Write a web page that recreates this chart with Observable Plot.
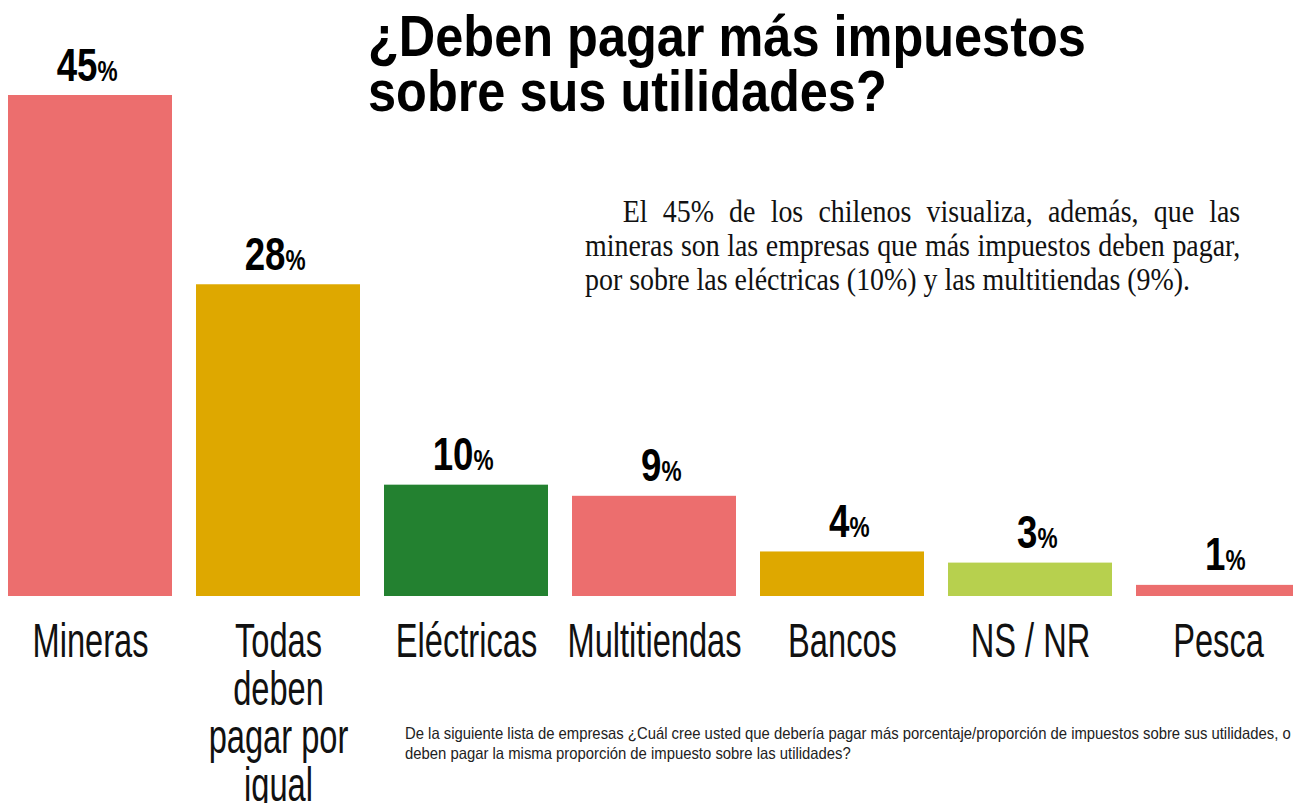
<!DOCTYPE html>
<html>
<head>
<meta charset="utf-8">
<script src="https://cdn.jsdelivr.net/npm/d3@7"></script>
<script src="https://cdn.jsdelivr.net/npm/@observablehq/plot@0.6"></script>
<style>
  html, body { margin: 0; padding: 0; background: #fff; }
  #wrap { position: relative; width: 1293px; height: 803px; overflow: hidden; }
  #title { position: absolute; left: 368px; top: 8px; font-family: "Liberation Sans", Arial, sans-serif; font-weight: bold; font-size: 58px; line-height: 55px; color: #000; white-space: nowrap; transform: scaleX(0.87); transform-origin: 0 0; }
  #note { position: absolute; left: 585px; top: 195px; width: 728px; font-family: "Liberation Serif", "DejaVu Serif", serif; font-size: 31px; line-height: 34px; color: #111; transform: scaleX(0.9); transform-origin: 0 0; }
  #note div { text-align: justify; text-align-last: justify; white-space: nowrap; }
  #note div.last { text-align-last: left; }
  #note div.first { text-indent: 42px; }
  #foot { position: absolute; left: 405px; top: 723px; font-family: "Liberation Sans", Arial, sans-serif; font-size: 16.5px; line-height: 20px; color: #222; white-space: nowrap; transform: scaleX(0.9); transform-origin: 0 0; }
  svg { position: absolute; left: 0; top: 0; }
</style>
</head>
<body>
<div id="wrap">
  <div id="chart"></div>
  <div id="title">¿Deben pagar más impuestos<br>sobre sus utilidades?</div>
  <div id="note">
    <div class="first">El 45% de los chilenos visualiza, además, que las</div>
    <div>mineras son las empresas que más impuestos deben pagar,</div>
    <div class="last">por sobre las eléctricas (10%) y las multitiendas (9%).</div>
  </div>
  <div id="foot">De la siguiente lista de empresas ¿Cuál cree usted que debería pagar más porcentaje/proporción de impuestos sobre sus utilidades, o<br>deben pagar la misma proporción de impuesto sobre las utilidades?</div>
</div>
<script>
const categories = ["Mineras", "Todas deben pagar por igual", "Eléctricas", "Multitiendas", "Bancos", "NS / NR", "Pesca"];
const labels = ["Mineras", "Todas\ndeben\npagar por\nigual", "Eléctricas", "Multitiendas", "Bancos", "NS / NR", "Pesca"];
const values = [45, 28, 10, 9, 4, 3, 1];
const colors = ["#EC6E6E", "#DEA800", "#238130", "#EC6E6E", "#DEA800", "#B7D04E", "#EC6E6E"];

const data = categories.map((c, i) => ({cat: c, label: labels[i], value: values[i], color: colors[i]}));

const chart = Plot.plot({
  width: 1293,
  height: 803,
  marginTop: 95,
  marginBottom: 207,
  marginLeft: 6,
  marginRight: -10,
  x: {domain: categories, paddingInner: 0.1256, paddingOuter: 0, axis: null},
  y: {domain: [0, 45], axis: null},
  color: {type: "identity"},
  style: {background: "transparent", overflow: "visible"},
  marks: [
    Plot.barY(data, {x: "cat", y: "value", fill: "color"}),
    Plot.text(data, {x: "cat", y: "value", text: d => String(d.value), textAnchor: "end", lineAnchor: "bottom", dx: 7, dy: -15, fontSize: 47, fontWeight: "bold", fontFamily: "Liberation Sans, Arial, sans-serif", fill: "#000"}),
    Plot.text(data, {x: "cat", y: "value", text: d => "%", textAnchor: "start", lineAnchor: "bottom", dx: 7, dy: -15, fontSize: 29, fontWeight: "bold", fontFamily: "Liberation Sans, Arial, sans-serif", fill: "#000"}),
    Plot.text(data, {x: "cat", y: () => 0, text: "label", lineAnchor: "top", dy: 26, lineHeight: 1.0, fontSize: 48, fontFamily: "Liberation Sans, Arial, sans-serif", fill: "#111"})
  ]
});
document.getElementById("chart").appendChild(chart);

const textGroups = chart.querySelectorAll('g[aria-label="text"]');
function squeeze(g, s) {
  if (!g) return;
  g.querySelectorAll(":scope > text").forEach(t => {
    const tr = t.getAttribute("transform") || "";
    t.setAttribute("transform", `${tr} scale(${s},1)`);
  });
}
squeeze(textGroups[0], 0.78);
squeeze(textGroups[1], 0.78);
squeeze(textGroups[2], 0.68);
</script>
</body>
</html>
